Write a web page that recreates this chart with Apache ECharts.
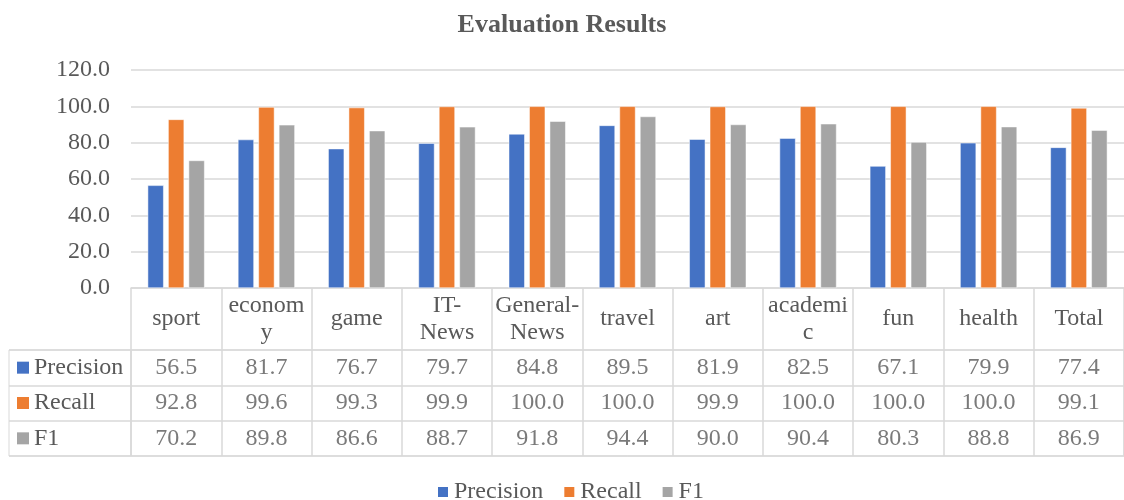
<!DOCTYPE html>
<html><head><meta charset="utf-8">
<script src="https://cdn.jsdelivr.net/npm/echarts@6/dist/echarts.min.js"></script>
<style>html,body{margin:0;padding:0;background:#fff}#c{width:1124px;height:500px}</style>
</head><body><div id="c"></div>
<script>
var categories = ['sport','economy','game','IT-News','General-News','travel','art','academic','fun','health','Total'];
var headerLabels = ['sport','econom\ny','game','IT-\nNews','General-\nNews','travel','art','academi\nc','fun','health','Total'];
var seriesNames = ['Precision','Recall','F1'];
var precision = [56.5,81.7,76.7,79.7,84.8,89.5,81.9,82.5,67.1,79.9,77.4];
var recall = [92.8,99.6,99.3,99.9,100.0,100.0,99.9,100.0,100.0,100.0,99.1];
var f1 = [70.2,89.8,86.6,88.7,91.8,94.4,90.0,90.4,80.3,88.8,86.9];
var yTicks = [0,20,40,60,80,100,120];
var colors = ['#4472C4','#ED7D31','#A5A5A5'];

var FONT = '"Liberation Serif","Times New Roman",serif';
var TXT = '#595959';
var LINE = '#d9d9d9';
var FS = 24;
var allSeries = [precision, recall, f1];

var tableData = [];
allSeries.forEach(function(arr, r){
  arr.forEach(function(v, c){ tableData.push([c, r, v]); });
});

var chart = echarts.init(document.getElementById('c'), null, {renderer:'canvas'});
var series = seriesNames.map(function(n, i){
  return {
    name: n, type: 'bar', xAxisIndex: 0, yAxisIndex: 0,
    data: allSeries[i], barWidth: 16, barGap: '28%',
    itemStyle: {color: colors[i], borderColor: '#fff', borderWidth: 0.5},
    emphasis: {disabled: true}
  };
});
series.push({
  type: 'scatter', xAxisIndex: 2, yAxisIndex: 2, data: tableData,
  symbolSize: 0, silent: true,
  label: {show: true, position: 'inside', formatter: function(p){return p.value[2].toFixed(1);},
    fontFamily: FONT, fontSize: FS, color: TXT}
});
series.push({type:'scatter', xAxisIndex:1, yAxisIndex:1, data:[], silent:true});

chart.setOption({
  animation: false,
  title: {text: 'Evaluation Results', left: 'center', top: 7,
    textStyle: {fontFamily: FONT, fontSize: 26, fontWeight: 'bold', color: TXT}},
  legend: {data: seriesNames, bottom: -9, left: 431, icon: 'rect', itemWidth: 12, itemHeight: 12, itemGap: 19,
    textStyle: {fontFamily: FONT, fontSize: FS, color: TXT, padding: [0,0,0,0]}},
  grid: [
    {left: 131, top: 70, width: 1003, height: 218},
    {left: 9, top: 350, width: 122, height: 106, show: true, borderColor: LINE, borderWidth: 1},
    {left: 131, top: 350, width: 1003, height: 106, show: true, borderColor: LINE, borderWidth: 1}
  ],
  xAxis: [
    {type: 'category', gridIndex: 0, data: categories,
      axisLine: {show: true, lineStyle: {color: LINE, width: 1.5}},
      axisTick: {show: true, interval: 0, length: 62, lineStyle: {color: LINE, width: 1.5}},
      axisLabel: {interval: 0, margin: 31, verticalAlign: 'middle', lineHeight: 27,
        fontFamily: FONT, fontSize: FS, color: TXT,
        formatter: function(v, i){ return headerLabels[i]; }}},
    {type: 'value', gridIndex: 1, show: false},
    {type: 'category', gridIndex: 2, data: categories, show: true,
      axisLine: {show: false}, axisTick: {show: false}, axisLabel: {show: false},
      splitLine: {show: true, interval: 0, lineStyle: {color: LINE, width: 1.5}}}
  ],
  yAxis: [
    {type: 'value', gridIndex: 0, min: 0, max: 120, interval: 20,
      axisLine: {show: false}, axisTick: {show: false},
      splitLine: {show: true, lineStyle: {color: LINE, width: 1.5}},
      axisLabel: {margin: 21, fontFamily: FONT, fontSize: FS, color: TXT,
        formatter: function(v){ return yTicks.indexOf(v) >= 0 ? v.toFixed(1) : ''; }}},
    {type: 'category', gridIndex: 1, data: seriesNames, inverse: true,
      axisLine: {show: false}, axisTick: {show: false},
      splitLine: {show: true, interval: 0, lineStyle: {color: LINE, width: 1.5}},
      axisLabel: {inside: true, margin: 8, fontFamily: FONT, fontSize: FS, color: TXT,
        formatter: function(v, i){ return '{s' + i + '|}{g|}' + v; },
        rich: {
          s0: {backgroundColor: colors[0], width: 12, height: 12},
          s1: {backgroundColor: colors[1], width: 12, height: 12},
          s2: {backgroundColor: colors[2], width: 12, height: 12},
          g: {width: 5, height: 12}
        }}},
    {type: 'category', gridIndex: 2, data: seriesNames, inverse: true,
      axisLine: {show: false}, axisTick: {show: false}, axisLabel: {show: false},
      splitLine: {show: true, interval: 0, lineStyle: {color: LINE, width: 1.5}}}
  ],
  series: series
});
</script></body></html>
